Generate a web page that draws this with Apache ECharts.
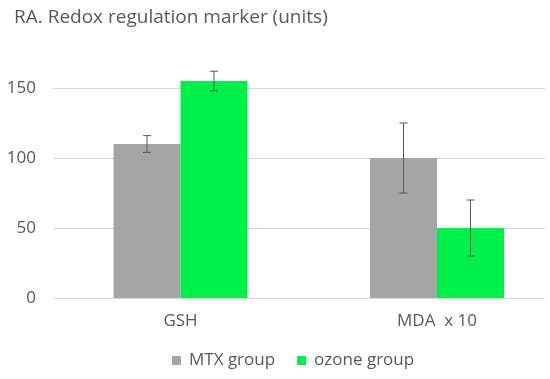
<!DOCTYPE html>
<html><head><meta charset="utf-8">
<script src="https://cdn.jsdelivr.net/npm/echarts@6/dist/echarts.min.js"></script>
<style>html,body{margin:0;padding:0;background:#fff}#c{width:550px;height:379px}</style>
</head><body><div id="c"></div>
<script>
const categories = ['GSH', 'MDA  x 10'];
const seriesNames = ['MTX group', 'ozone group'];
const mtxValues = [110, 100];
const mtxErrors = [6, 25];
const ozoneValues = [155, 50];
const ozoneErrors = [7, 20];
const yTicks = [0, 50, 100, 150];

const FONT = 'Open Sans';
const TXT = '#595959';
const chart = echarts.init(document.getElementById('c'));

function errSeries(name, values, errs, barIdx) {
  return {
    type: 'custom', xAxisIndex: 1, yAxisIndex: 1, z: 10, silent: true, clip: false,
    name: name + ' err',
    data: values.map((v, i) => [i, v - errs[i], v + errs[i]]),
    renderItem: function (params, api) {
      const lo = api.coord([api.value(0), api.value(1)]);
      const hi = api.coord([api.value(0), api.value(2)]);
      const bw = 67;
      const x = lo[0] + (barIdx === 0 ? -bw / 2 : bw / 2);
      const cap = 4;
      const st = { stroke: '#595959', lineWidth: 1 };
      return { type: 'group', children: [
        { type: 'line', shape: { x1: x, y1: lo[1], x2: x, y2: hi[1] }, style: st },
        { type: 'line', shape: { x1: x - cap, y1: lo[1], x2: x + cap, y2: lo[1] }, style: st },
        { type: 'line', shape: { x1: x - cap, y1: hi[1], x2: x + cap, y2: hi[1] }, style: st }
      ]};
    }
  };
}

chart.setOption({
  animation: false,
  textStyle: { fontFamily: FONT },
  title: {
    text: 'RA. Redox regulation marker (units)', left: 9, top: 3,
    textStyle: { fontFamily: FONT, fontSize: 19, fontWeight: 'normal', color: TXT }
  },
  legend: {
    data: seriesNames, bottom: 5, left: 167, itemWidth: 9, itemHeight: 9, itemGap: 22,
    icon: 'rect',
    textStyle: { fontFamily: FONT, fontSize: 17, color: TXT, padding: [0, 0, 0, 3] }
  },
  grid: [
    { left: 53, right: 5, top: 53, bottom: 81 },
    { left: 180.5, right: 113, top: 53, bottom: 81 }
  ],
  xAxis: [
    { type: 'category', gridIndex: 0, data: categories, show: false },
    { type: 'category', gridIndex: 1, data: categories, boundaryGap: false,
      axisLine: { show: false }, axisTick: { show: false },
      axisLabel: { fontFamily: FONT, fontSize: 17, color: TXT, margin: 15 } }
  ],
  yAxis: [
    { type: 'value', gridIndex: 0, min: 0, max: 175, interval: 50,
      axisLine: { show: false }, axisTick: { show: false },
      axisLabel: { fontFamily: FONT, fontSize: 17, color: TXT, margin: 17, showMaxLabel: false },
      splitLine: { lineStyle: { color: '#d9d9d9', width: 1 }, showMaxLine: false } },
    { type: 'value', gridIndex: 1, min: 0, max: 175, interval: 50, show: false,
      splitLine: { show: false } }
  ],
  series: [
    { name: seriesNames[0], type: 'bar', xAxisIndex: 1, yAxisIndex: 1, data: mtxValues, clip: false,
      barWidth: 67, barGap: '0%', itemStyle: { color: '#a5a5a5' } },
    { name: seriesNames[1], type: 'bar', xAxisIndex: 1, yAxisIndex: 1, data: ozoneValues, clip: false,
      barWidth: 67, barGap: '0%', itemStyle: { color: '#00f04b' } },
    errSeries(seriesNames[0], mtxValues, mtxErrors, 0),
    errSeries(seriesNames[1], ozoneValues, ozoneErrors, 1)
  ]
});
</script></body></html>
